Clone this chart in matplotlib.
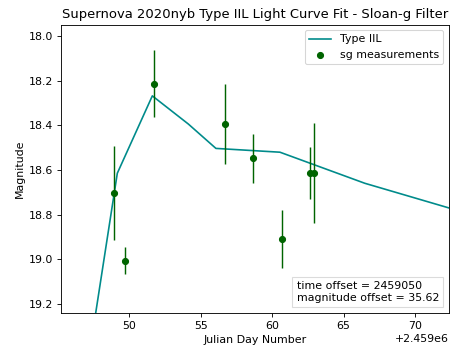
import numpy as np
import matplotlib
matplotlib.use("Agg")
import matplotlib.pyplot as plt
from matplotlib.offsetbox import AnchoredText

jd_base = 2459000

# Type IIL model curve (days after jd_base, magnitude)
model_days = [47.5, 49.16, 51.61, 54.13, 56.06, 60.54, 66.48, 72.4]
model_mag = [19.30, 18.614, 18.268, 18.394, 18.503, 18.52, 18.659, 18.77]

# sg measurements
obs_days = [48.93, 49.68, 51.73, 56.71, 58.67, 60.66, 62.66, 62.94]
obs_mag = [18.701, 19.005, 18.213, 18.395, 18.547, 18.908, 18.614, 18.614]
obs_err = [0.21, 0.06, 0.148, 0.18, 0.11, 0.13, 0.117, 0.224]

t_model = np.array(model_days) + jd_base
t_obs = np.array(obs_days) + jd_base

dpi = 79.1
fig = plt.figure(figsize=(452 / dpi, 356 / dpi), dpi=dpi)
ax = fig.add_axes([0.135, 0.121, 0.858, 0.810])

ax.plot(t_model, model_mag, color="darkcyan", label="Type IIL")
ax.errorbar(t_obs, obs_mag, yerr=obs_err, fmt="none", ecolor="darkgreen", elinewidth=1.3)
ax.scatter(t_obs, obs_mag, color="darkgreen", s=30, zorder=3, label="sg measurements")

ax.set_xlim(45.22 + jd_base, 72.36 + jd_base)
ax.set_ylim(19.239, 17.949)
ax.set_xticks(np.array([50, 55, 60, 65, 70]) + jd_base)
ax.set_yticks([18.0, 18.2, 18.4, 18.6, 18.8, 19.0, 19.2])

ax.set_title("Supernova 2020nyb Type IIL Light Curve Fit - Sloan-g Filter")
ax.set_xlabel("Julian Day Number")
ax.set_ylabel("Magnitude")
ax.legend(loc="upper right")

box = AnchoredText("time offset = 2459050\nmagnitude offset = 35.62", loc="lower right",
                   prop=dict(size=10))
box.patch.set_edgecolor("lightgrey")
box.patch.set_alpha(0.8)
ax.add_artist(box)

fig.savefig("out.png", dpi=dpi)
